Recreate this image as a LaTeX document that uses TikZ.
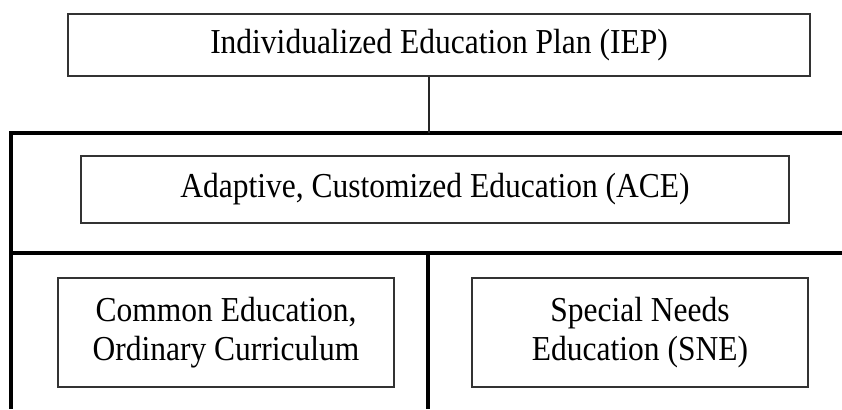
\documentclass[tikz,border=0pt]{standalone}
\usepackage{fontspec}
\setmainfont{Liberation Serif}[FakeStretch=0.9]

\tikzset{
  planbox/.style={draw=black!80, line width=1.3pt, fill=white, align=center, inner sep=0pt,
    font=\fontsize{35}{39}\selectfont},
  heavyline/.style={line width=4.6pt, black},
  lightline/.style={line width=1.3pt, black!85}
}

\begin{document}
\begin{tikzpicture}[x=1pt, y=-1pt]

		\useasboundingbox (0,0) rectangle (842,409);

		%Rahmen
		\draw [heavyline] (842,133) -- (11,133) -- (11,409);
		\draw [heavyline] (11,253) -- (842,253);
		\draw [heavyline] (428,253) -- (428,409);

		%Kaesten
		\node [planbox, minimum width=742pt, minimum height=62pt] (iep) at (439,45) {Individualized Education Plan (IEP)};
		\node [planbox, minimum width=708pt, minimum height=67pt] (ace) at (435,189.5) {Adaptive, Customized Education (ACE)};
		\node [planbox, minimum width=336pt, minimum height=109pt] (ceoc) at (226,332.5) {Common Education,\\Ordinary Curriculum};
		\node [planbox, minimum width=336pt, minimum height=109pt] (sne) at (640,332.5) {Special Needs\\Education (SNE)};

		%Verbindung
		\coordinate (junction) at (429,133);
		\draw [lightline] (iep.south -| junction) -- (junction);

\end{tikzpicture}
\end{document}
